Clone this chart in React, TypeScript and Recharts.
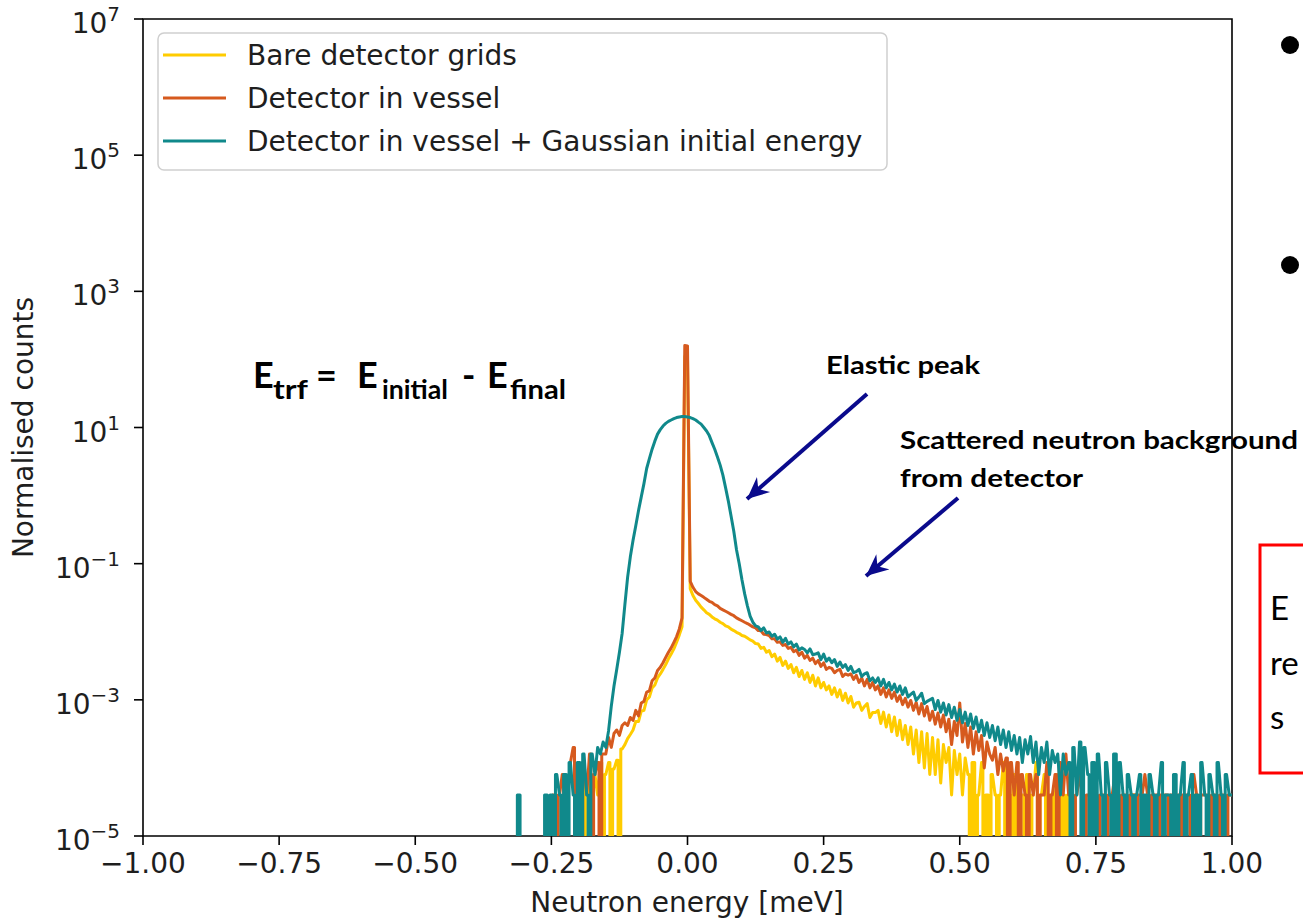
import React from 'react';
import { LineChart, Line, XAxis, YAxis, ReferenceArea } from 'recharts';

// histogram bins: -0.35 ... 1.00 meV, 0.005 wide (one row below = 0.05 meV)
const BIN_START = -0.35;
const BIN_WIDTH = 0.005;

const bareGrids = [
  /* -0.35 */ 0, 0, 0, 0, 0, 0, 0, 0, 0, 0,
  /* -0.30 */ 0, 0, 0, 0, 0, 0, 0, 0, 0, 0,
  /* -0.25 */ 0, 0, 0, 0, 0, 0, 0, 0, 0, 0,
  /* -0.20 */ 0, 4e-5, 0, 8e-5, 4e-5, 0, 8e-5, 4e-5, 1.2e-4, 0,
  /* -0.15 */ 8e-5, 1.2e-4, 0, 9.6e-5, 1.3e-4, 0, 1.9e-4, 2.2e-4, 2.7e-4, 3.1e-4,
  /* -0.10 */ 3.6e-4, 4.8e-4, 4.8e-4, 6.8e-4, 7e-4, 1e-3, 1.1e-3, 1.5e-3, 1.65e-3, 2.1e-3,
  /* -0.05 */ 2.4e-3, 2.8e-3, 3.3e-3, 4e-3, 4.7e-3, 5.6e-3, 7e-3, 9e-3, 0.0118, 110,
  /*  0.00 */ 105, 0.043, 0.034, 0.029, 0.026, 0.023, 0.021, 0.019, 0.018, 0.0165,
  /*  0.05 */ 0.0155, 0.0148, 0.0138, 0.0132, 0.0122, 0.0118, 0.0109, 0.0104, 0.0098, 0.0094,
  /*  0.10 */ 0.0088, 0.0086, 0.0081, 0.0076, 0.0073, 0.0067, 0.0066, 0.0057, 0.0059, 0.005,
  /*  0.15 */ 0.0053, 0.0043, 0.0047, 0.0037, 0.0042, 0.0032, 0.0037, 0.0029, 0.0033, 0.0025,
  /*  0.20 */ 0.003, 0.0022, 0.0027, 0.002, 0.0025, 0.0018, 0.0023, 0.0016, 0.0021, 0.0015,
  /*  0.25 */ 0.0018, 0.0014, 0.0016, 0.0012, 0.0015, 0.0011, 0.0014, 9.8e-4, 1.25e-3, 9e-4,
  /*  0.30 */ 1.12e-3, 7.8e-4, 9e-4, 9.2e-4, 7e-4, 8e-4, 8.8e-4, 5.5e-4, 6.5e-4, 6.5e-4,
  /*  0.35 */ 7e-4, 4.5e-4, 6.6e-4, 4e-4, 6e-4, 3.4e-4, 5.6e-4, 3e-4, 5e-4, 2.6e-4,
  /*  0.40 */ 4.2e-4, 2.2e-4, 4e-4, 1.6e-4, 3.6e-4, 1.2e-4, 3.4e-4, 1e-4, 3.2e-4, 8e-5,
  /*  0.45 */ 2.8e-4, 8e-5, 2.6e-4, 6e-5, 2.2e-4, 1.2e-4, 2e-4, 4e-5, 1.8e-4, 8e-5,
  /*  0.50 */ 1.6e-4, 4e-5, 1.4e-4, 8e-5, 0, 1.2e-4, 0, 4e-5, 1.2e-4, 0,
  /*  0.55 */ 4e-5, 0, 8e-5, 4e-5, 0, 4e-5, 1.2e-4, 0, 4e-5, 0,
  /*  0.60 */ 8e-5, 0, 4e-5, 4e-5, 0, 8e-5, 0, 4e-5, 1.2e-4, 0,
  /*  0.65 */ 4e-5, 8e-5, 0, 4e-5, 0, 4e-5, 8e-5, 0, 4e-5, 0,
  /*  0.70 */ 4e-5, 0, 0, 0, 0, 0, 0, 0, 0, 0,
  /*  0.75 */ 0, 0, 0, 0, 0, 0, 0, 0, 0, 0,
  /*  0.80 */ 0, 0, 0, 0, 4e-5, 0, 0, 0, 0, 0,
  /*  0.85 */ 0, 0, 0, 0, 0, 0, 0, 0, 0, 0,
  /*  0.90 */ 0, 0, 0, 0, 0, 0, 4e-5, 0, 0, 0,
  /*  0.95 */ 0, 0, 0, 0, 0, 0, 0, 0, 0, 0, 0,
];

const inVessel = [
  /* -0.35 */ 0, 0, 0, 0, 0, 0, 0, 0, 0, 0,
  /* -0.30 */ 0, 0, 0, 0, 0, 0, 0, 0, 0, 0,
  /* -0.25 */ 0, 4e-5, 0, 4e-5, 8e-5, 0, 4e-5, 1.2e-4, 2e-4, 0,
  /* -0.20 */ 8e-5, 0, 1.2e-4, 4e-5, 1.6e-4, 0, 8e-5, 1.2e-4, 0, 1.6e-4,
  /* -0.15 */ 1.6e-4, 2.8e-4, 2e-4, 3.2e-4, 3.6e-4, 3e-4, 4.2e-4, 4.6e-4, 4.2e-4, 5.5e-4,
  /* -0.10 */ 5e-4, 7e-4, 5.8e-4, 9e-4, 9.5e-4, 1.3e-3, 1.35e-3, 1.9e-3, 2.1e-3, 2.7e-3,
  /* -0.05 */ 3e-3, 3.5e-3, 4.2e-3, 5e-3, 5.8e-3, 7e-3, 8.5e-3, 0.011, 0.016, 160,
  /*  0.00 */ 158, 0.055, 0.045, 0.039, 0.036, 0.034, 0.032, 0.03, 0.028, 0.027,
  /*  0.05 */ 0.025, 0.024, 0.022, 0.021, 0.02, 0.019, 0.018, 0.0172, 0.016, 0.0152,
  /*  0.10 */ 0.0145, 0.0138, 0.0132, 0.0125, 0.0118, 0.0114, 0.0104, 0.0103, 0.0092, 0.0091,
  /*  0.15 */ 0.0088, 0.0079, 0.0079, 0.007, 0.0071, 0.0063, 0.0065, 0.0057, 0.0059, 0.0051,
  /*  0.20 */ 0.0054, 0.0045, 0.005, 0.0041, 0.0045, 0.0038, 0.0041, 0.0034, 0.0038, 0.0031,
  /*  0.25 */ 0.0035, 0.0028, 0.003, 0.0029, 0.0025, 0.0027, 0.0028, 0.0022, 0.0024, 0.0023,
  /*  0.30 */ 0.0024, 0.002, 0.0023, 0.0018, 0.0021, 0.0016, 0.002, 0.0015, 0.0018, 0.0014,
  /*  0.35 */ 0.0016, 0.0012, 0.0015, 0.0011, 0.0014, 1.05e-3, 1.3e-3, 9.5e-4, 1.15e-3, 8.5e-4,
  /*  0.40 */ 1.05e-3, 7.8e-4, 9.8e-4, 7e-4, 9.2e-4, 6.2e-4, 8.8e-4, 5.8e-4, 8e-4, 5e-4,
  /*  0.45 */ 6.8e-4, 4.4e-4, 6.4e-4, 4e-4, 6e-4, 3.4e-4, 5.2e-4, 2.2e-4, 4.8e-4, 3e-4,
  /*  0.50 */ 9e-4, 2.4e-4, 4.5e-4, 2e-4, 4e-4, 1.6e-4, 3.4e-4, 1.8e-4, 3e-4, 1e-4,
  /*  0.55 */ 2.4e-4, 1.6e-4, 1.3e-4, 2e-4, 8e-5, 1.6e-4, 9e-5, 1.4e-4, 0, 1.2e-4,
  /*  0.60 */ 4e-5, 1.2e-4, 0, 8e-5, 4e-5, 0, 8e-5, 4e-5, 8e-5, 0,
  /*  0.65 */ 4e-5, 4e-5, 1.2e-4, 0, 4e-5, 8e-5, 0, 1.2e-4, 4e-5, 1.6e-4,
  /*  0.70 */ 4e-5, 4e-5, 0, 4e-5, 8e-5, 4e-5, 0, 4e-5, 4e-5, 8e-5,
  /*  0.75 */ 4e-5, 0, 4e-5, 4e-5, 0, 4e-5, 4e-5, 8e-5, 4e-5, 0,
  /*  0.80 */ 4e-5, 4e-5, 0, 4e-5, 4e-5, 0, 4e-5, 4e-5, 8e-5, 4e-5,
  /*  0.85 */ 0, 4e-5, 4e-5, 0, 4e-5, 4e-5, 4e-5, 0, 4e-5, 4e-5,
  /*  0.90 */ 4e-5, 0, 4e-5, 4e-5, 4e-5, 0, 8e-5, 4e-5, 0, 4e-5,
  /*  0.95 */ 4e-5, 4e-5, 0, 4e-5, 4e-5, 0, 4e-5, 4e-5, 0, 4e-5, 4e-5,
];

const gaussianInitial = [
  /* -0.35 */ 0, 0, 0, 0, 0, 0, 0, 0, 4e-5, 0,
  /* -0.30 */ 0, 0, 0, 0, 0, 0, 0, 0, 4e-5, 0,
  /* -0.25 */ 4e-5, 0, 8e-5, 4e-5, 0, 8e-5, 0, 1.2e-4, 4e-5, 0,
  /* -0.20 */ 1.2e-4, 0, 1.6e-4, 4e-5, 0, 1.6e-4, 8e-5, 2e-4, 1.6e-4, 2.4e-4,
  /* -0.15 */ 2e-4, 3.5e-4, 8e-4, 1.6e-3, 2.8e-3, 5e-3, 9.5e-3, 0.025, 0.063, 0.126,
  /* -0.10 */ 0.22, 0.36, 0.6, 0.95, 1.5, 2.5, 3.5, 4.8, 6.3, 8.0,
  /* -0.05 */ 9.3, 10.5, 11.5, 12.3, 12.9, 13.5, 14.0, 14.3, 14.5, 14.5,
  /*  0.00 */ 14.3, 14.0, 13.5, 12.9, 12.0, 11.2, 10.0, 8.9, 7.6, 6.0,
  /*  0.05 */ 4.8, 3.7, 2.8, 2.0, 1.3, 0.83, 0.5, 0.3, 0.16, 0.1,
  /*  0.10 */ 0.058, 0.036, 0.024, 0.017, 0.0138, 0.0122, 0.0118, 0.0104, 0.0114, 0.0096,
  /*  0.15 */ 0.0099, 0.0086, 0.0092, 0.0078, 0.0084, 0.007, 0.008, 0.0066, 0.0071, 0.006,
  /*  0.20 */ 0.0066, 0.0054, 0.0058, 0.0055, 0.0049, 0.0056, 0.0046, 0.0047, 0.0049, 0.0039,
  /*  0.25 */ 0.0047, 0.0037, 0.0041, 0.0035, 0.0039, 0.0031, 0.0036, 0.003, 0.0033, 0.0027,
  /*  0.30 */ 0.0031, 0.0025, 0.0026, 0.0028, 0.0022, 0.0024, 0.0025, 0.0019, 0.0021, 0.0018,
  /*  0.35 */ 0.0021, 0.0016, 0.002, 0.0015, 0.0018, 0.0014, 0.0017, 0.0013, 0.0016, 0.0012,
  /*  0.40 */ 0.0015, 0.0011, 0.0012, 1.3e-3, 9.8e-4, 1.1e-3, 1.25e-3, 8.8e-4, 9.5e-4, 1e-3,
  /*  0.45 */ 1.05e-3, 7.2e-4, 9.8e-4, 6.6e-4, 9e-4, 6e-4, 8.5e-4, 5.5e-4, 7.8e-4, 5e-4,
  /*  0.50 */ 7.2e-4, 4.6e-4, 6.6e-4, 4.2e-4, 6.2e-4, 3.8e-4, 5.6e-4, 3.4e-4, 5e-4, 3e-4,
  /*  0.55 */ 4.6e-4, 2.8e-4, 4.2e-4, 2.5e-4, 4e-4, 2.2e-4, 3.6e-4, 2e-4, 3.4e-4, 1.8e-4,
  /*  0.60 */ 3e-4, 1.6e-4, 2.8e-4, 1.2e-4, 2.6e-4, 1.6e-4, 2.9e-4, 1.2e-4, 2.4e-4, 8e-5,
  /*  0.65 */ 2e-4, 1.2e-4, 2.4e-4, 8e-5, 1.8e-4, 1.2e-4, 1.6e-4, 4e-5, 1.6e-4, 8e-5,
  /*  0.70 */ 1.2e-4, 0, 2e-4, 4e-5, 2.4e-4, 0, 2e-4, 8e-5, 0, 1.2e-4,
  /*  0.75 */ 0, 1.6e-4, 4e-5, 0, 1.2e-4, 4e-5, 0, 1.6e-4, 0, 1.2e-4,
  /*  0.80 */ 4e-5, 0, 8e-5, 4e-5, 0, 4e-5, 8e-5, 0, 4e-5, 0,
  /*  0.85 */ 8e-5, 4e-5, 0, 4e-5, 1.2e-4, 0, 4e-5, 4e-5, 0, 8e-5,
  /*  0.90 */ 0, 4e-5, 1.2e-4, 0, 4e-5, 8e-5, 0, 4e-5, 0, 1.2e-4,
  /*  0.95 */ 4e-5, 0, 8e-5, 4e-5, 0, 1.2e-4, 4e-5, 0, 8e-5, 4e-5, 4e-5,
];

const xTicks = [-1, -0.75, -0.5, -0.25, 0, 0.25, 0.5, 0.75, 1];
const yTicks = [1e-5, 1e-3, 1e-1, 1e1, 1e3, 1e5, 1e7];

const series = [
  { key: 'bare', name: 'Bare detector grids', color: '#FFCC00' },
  { key: 'vessel', name: 'Detector in vessel', color: '#D65A1E' },
  { key: 'gauss', name: 'Detector in vessel + Gaussian initial energy', color: '#10898B' },
];

// empty bins sit far below the axis (matplotlib clips log(0) the same way)
const EMPTY = 1e-12;

const rows = gaussianInitial.map((_, i) => ({
  energy: +(BIN_START + i * BIN_WIDTH).toFixed(3),
  bare: bareGrids[i] || EMPTY,
  vessel: inVessel[i] || EMPTY,
  gauss: gaussianInitial[i] || EMPTY,
}));

// straight segments, but a drop into / out of an empty bin is drawn as a
// histogram step, so the sparse tails fill in like the original plot
const histCurve = (context: any) => {
  let px = 0;
  let py = 0;
  let first = true;
  return {
    areaStart() {},
    areaEnd() {},
    lineStart() {
      first = true;
    },
    lineEnd() {},
    point(x: number, y: number) {
      x = +x;
      y = +y;
      if (first) {
        context.moveTo(x, y);
        first = false;
      } else if (Math.abs(y - py) > 350) {
        const xm = (px + x) / 2;
        context.lineTo(xm, py);
        context.lineTo(xm, y);
        context.lineTo(x, y);
      } else {
        context.lineTo(x, y);
      }
      px = x;
      py = y;
    },
  };
};

const TEXT = '#1e1e1e';
const MPL_FONT = '"DejaVu Sans", sans-serif';
const SLIDE_FONT = 'Lato, "Open Sans", sans-serif';
const NAVY = '#0a0a8c';

const XTick = (props: any) => {
  const { x, y, payload } = props;
  const label = payload.value.toFixed(2).replace('-', '\u2212');
  return (
    <text x={x} y={y + 28} textAnchor="middle" fontSize={28} fill={TEXT} fontFamily={MPL_FONT}>
      {label}
    </text>
  );
};

const YTick = (props: any) => {
  const { x, y, payload } = props;
  const exp = Math.round(Math.log10(payload.value));
  const sup = exp < 0 ? '\u2212' + Math.abs(exp) : String(exp);
  return (
    <text x={x} y={y + 14} textAnchor="end" fontSize={28} fill={TEXT} fontFamily={MPL_FONT}>
      10
      <tspan dy={-12} fontSize={20}>{sup}</tspan>
    </text>
  );
};

export default function App() {
  return (
    <div style={{ position: 'absolute', left: 0, top: 0, width: 1303, height: 923, background: '#fff', overflow: 'hidden' }}>
      <LineChart width={1303} height={923} data={rows} margin={{ top: 19, right: 71, bottom: 27, left: 0 }}>
        <XAxis
          dataKey="energy"
          type="number"
          domain={[-1, 1]}
          ticks={xTicks}
          interval={0}
          allowDataOverflow
          height={60}
          tickSize={9}
          tickMargin={0}
          tickLine={{ stroke: '#000', strokeWidth: 1.6 }}
          axisLine={false}
          tick={XTick}
        />
        <YAxis
          scale="log"
          domain={[1e-5, 1e7]}
          ticks={yTicks}
          interval={0}
          allowDataOverflow
          width={143}
          tickSize={9}
          tickMargin={14}
          tickLine={{ stroke: '#000', strokeWidth: 1.6 }}
          axisLine={false}
          tick={YTick}
        />
        {series.map((s) => (
          <Line
            key={s.key}
            dataKey={s.key}
            name={s.name}
            type={histCurve as any}
            stroke={s.color}
            strokeWidth={3}
            strokeLinejoin="round"
            dot={false}
            activeDot={false}
            isAnimationActive={false}
          />
        ))}
        <ReferenceArea x1={-1} x2={1} y1={1e-5} y2={1e7} fill="none" stroke="#000" strokeWidth={1.6} />
      </LineChart>

      <svg width={1303} height={923} style={{ position: 'absolute', left: 0, top: 0, pointerEvents: 'none' }}>
        <defs>
          <marker id="head" markerUnits="userSpaceOnUse" markerWidth={26} markerHeight={22} refX={22} refY={11} orient="auto">
            <path d="M0,1 L22,11 L0,21 L7,11 Z" fill={NAVY} />
          </marker>
        </defs>

        {/* axis labels */}
        <text x={687} y={912} textAnchor="middle" fontSize={28} fill={TEXT} fontFamily={MPL_FONT}>
          Neutron energy [meV]
        </text>
        <text transform="translate(33,427.5) rotate(-90)" textAnchor="middle" fontSize={28} fill={TEXT} fontFamily={MPL_FONT}>
          Normalised counts
        </text>

        {/* legend */}
        <rect x={158} y={33} width={729} height={137} rx={6} fill="#fff" fillOpacity={0.8} stroke="#cfcfcf" strokeWidth={1.5} />
        {series.map((s, i) => (
          <g key={s.key}>
            <line x1={163} x2={226} y1={55 + 43 * i} y2={55 + 43 * i} stroke={s.color} strokeWidth={3} />
            <text x={247} y={65 + 43 * i} fontSize={28} fill={TEXT} fontFamily={MPL_FONT}>
              {s.name}
            </text>
          </g>
        ))}

        {/* slide annotations */}
        <g fontFamily={SLIDE_FONT} fontWeight={700} fill="#000">
          <text x={253} y={388} fontSize={36}>E</text>
          <text x={273} y={399} fontSize={26} textLength={35} lengthAdjust="spacingAndGlyphs">trf</text>
          <text x={316} y={388} fontSize={36}>=</text>
          <text x={357} y={388} fontSize={36}>E</text>
          <text x={382} y={399} fontSize={26} textLength={66} lengthAdjust="spacingAndGlyphs">initial</text>
          <text x={462} y={388} fontSize={36}>-</text>
          <text x={487} y={388} fontSize={36}>E</text>
          <text x={510} y={399} fontSize={26} textLength={56} lengthAdjust="spacingAndGlyphs">final</text>

          <text x={826} y={374} fontSize={25} textLength={154} lengthAdjust="spacingAndGlyphs">Elastic peak</text>
          <text x={900} y={449} fontSize={25} textLength={398} lengthAdjust="spacingAndGlyphs">Scattered neutron background</text>
          <text x={900} y={487} fontSize={25} textLength={183} lengthAdjust="spacingAndGlyphs">from detector</text>
        </g>
        <line x1={867} y1={394} x2={747} y2={499} stroke={NAVY} strokeWidth={4} markerEnd="url(#head)" />
        <line x1={958} y1={498} x2={866} y2={576} stroke={NAVY} strokeWidth={4} markerEnd="url(#head)" />

        {/* neighbouring slide content, cut by the frame */}
        <circle cx={1290} cy={45} r={9} fill="#000" />
        <circle cx={1290} cy={265} r={9} fill="#000" />
        <rect x={1260} y={545} width={80} height={228} fill="none" stroke="#ff0000" strokeWidth={3} />
        <g fontFamily={SLIDE_FONT} fontSize={33} fill="#000">
          <text x={1270} y={620}>E</text>
          <text x={1270} y={675}>re</text>
          <text x={1270} y={729}>s</text>
        </g>
      </svg>
    </div>
  );
}
